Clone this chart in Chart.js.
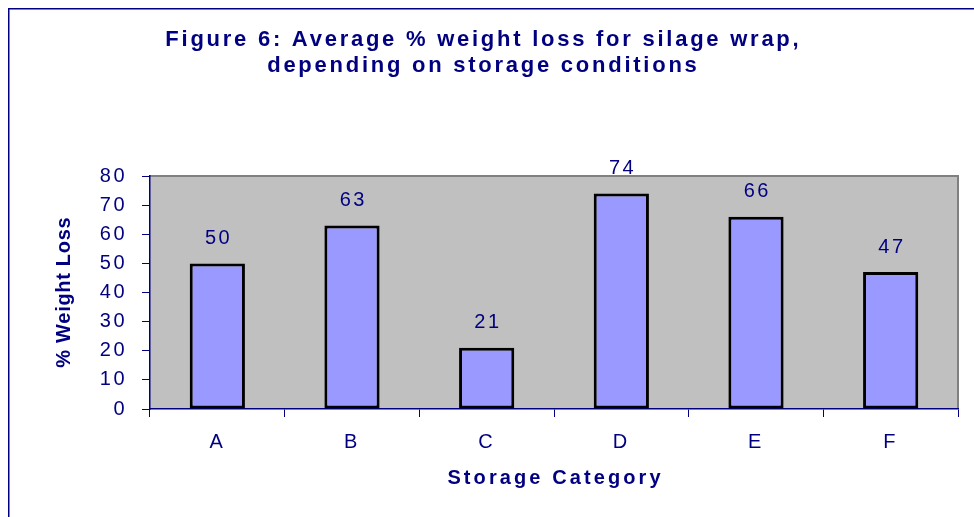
<!DOCTYPE html>
<html>
<head>
<meta charset="utf-8">
<title>Average % weight loss for silage wrap</title>
<style>
  html, body { margin: 0; padding: 0; background: #ffffff; }
  #wrap { position: relative; width: 974px; height: 517px; }
</style>
<script src="https://cdn.jsdelivr.net/npm/chart.js@4/dist/chart.umd.min.js"></script>
</head>
<body>
<div id="wrap"><canvas id="chart"></canvas></div>
<script>
// ---- data ----
const categories = ['A', 'B', 'C', 'D', 'E', 'F'];
const weightLoss = [50, 63, 21, 74, 66, 47];
const yTickValues = [0, 10, 20, 30, 40, 50, 60, 70, 80];
const titleLines = ['Figure 6: Average % weight loss for silage wrap,', 'depending on storage conditions'];
const yAxisTitle = '% Weight Loss';
const xAxisTitle = 'Storage Category';

// ---- styling ----
const NAVY = '#000080';
const FONT = '"Liberation Sans", Arial, Helvetica, sans-serif';
const TICK_SPACING = 2.5;

// text with letter spacing, centred on x (trailing spacing compensated)
function spacedText(ctx, text, x, y, font, spacing) {
  ctx.save();
  ctx.font = font;
  ctx.letterSpacing = spacing + 'px';
  ctx.fillStyle = NAVY;
  ctx.textAlign = 'center';
  ctx.textBaseline = 'middle';
  ctx.fillText(text, x + spacing / 2, y);
  ctx.restore();
}

// plot-area fill, frame, titles and value labels
const frame = {
  id: 'frame',
  beforeDraw(chart) {
    const { ctx, chartArea: a } = chart;
    ctx.save();
    ctx.fillStyle = '#c0c0c0';
    ctx.fillRect(a.left, a.top, a.right - a.left, a.bottom - a.top);
    ctx.strokeStyle = '#808080';
    ctx.lineWidth = 2;
    ctx.beginPath();
    ctx.moveTo(a.left, a.top);
    ctx.lineTo(a.right, a.top);
    ctx.lineTo(a.right, a.bottom);
    ctx.stroke();
    // outer border of the figure
    ctx.strokeStyle = NAVY;
    ctx.lineWidth = 1.5;
    ctx.beginPath();
    ctx.moveTo(8.75, chart.height + 5);
    ctx.lineTo(8.75, 8.75);
    ctx.lineTo(chart.width + 5, 8.75);
    ctx.stroke();
    ctx.restore();
    // spaced digits for the axis tick labels
    ctx.letterSpacing = TICK_SPACING + 'px';
  },
  afterDatasetsDraw(chart) {
    const { ctx } = chart;
    const meta = chart.getDatasetMeta(0);
    meta.data.forEach((bar, i) => {
      spacedText(ctx, String(weightLoss[i]), bar.x, bar.y - 25, '20px ' + FONT, TICK_SPACING);
    });
  },
  afterDraw(chart) {
    const { ctx, chartArea: a } = chart;
    const cx = chart.width / 2 - 5;
    spacedText(ctx, titleLines[0], cx, 39.5, 'bold 22px ' + FONT, 2.75);
    spacedText(ctx, titleLines[1], cx, 66, 'bold 22px ' + FONT, 2.75);
    spacedText(ctx, xAxisTitle, (a.left + a.right) / 2, 478, 'bold 20px ' + FONT, 3.1);
    ctx.save();
    ctx.translate(64, (a.top + a.bottom) / 2);
    ctx.rotate(-Math.PI / 2);
    spacedText(ctx, yAxisTitle, 0, 0, 'bold 20px ' + FONT, 0.7);
    ctx.restore();
  }
};

new Chart(document.getElementById('chart'), {
  type: 'bar',
  data: {
    labels: categories,
    datasets: [{
      data: weightLoss,
      backgroundColor: '#9999ff',
      borderColor: '#000000',
      borderWidth: 3,
      borderSkipped: false,
      barPercentage: 0.41,
      categoryPercentage: 1
    }]
  },
  options: {
    responsive: true,
    maintainAspectRatio: false,
    animation: false,
    devicePixelRatio: 1,
    layout: { padding: { left: 0, right: 16, top: 176, bottom: 48 } },
    plugins: {
      legend: { display: false },
      tooltip: { enabled: false },
      title: { display: false }
    },
    scales: {
      x: {
        offset: true,
        grid: { offset: true, drawOnChartArea: false, drawTicks: true, tickLength: 8, color: NAVY, lineWidth: 1 },
        border: { display: true, color: NAVY, width: 1.5 },
        ticks: { color: NAVY, font: { family: FONT, size: 20 }, padding: 13, maxRotation: 0 },
        afterFit(scale) { scale.height = 60; }
      },
      y: {
        min: 0,
        max: yTickValues[yTickValues.length - 1],
        afterBuildTicks(scale) { scale.ticks = yTickValues.map(v => ({ value: v })); },
        grid: { drawOnChartArea: false, drawTicks: true, tickLength: 8, color: NAVY, lineWidth: 1 },
        border: { display: true, color: NAVY, width: 1.5 },
        ticks: { color: NAVY, font: { family: FONT, size: 20 }, padding: 15 },
        afterFit(scale) { scale.width = 150; }
      }
    }
  },
  plugins: [frame]
});
</script>
</body>
</html>
